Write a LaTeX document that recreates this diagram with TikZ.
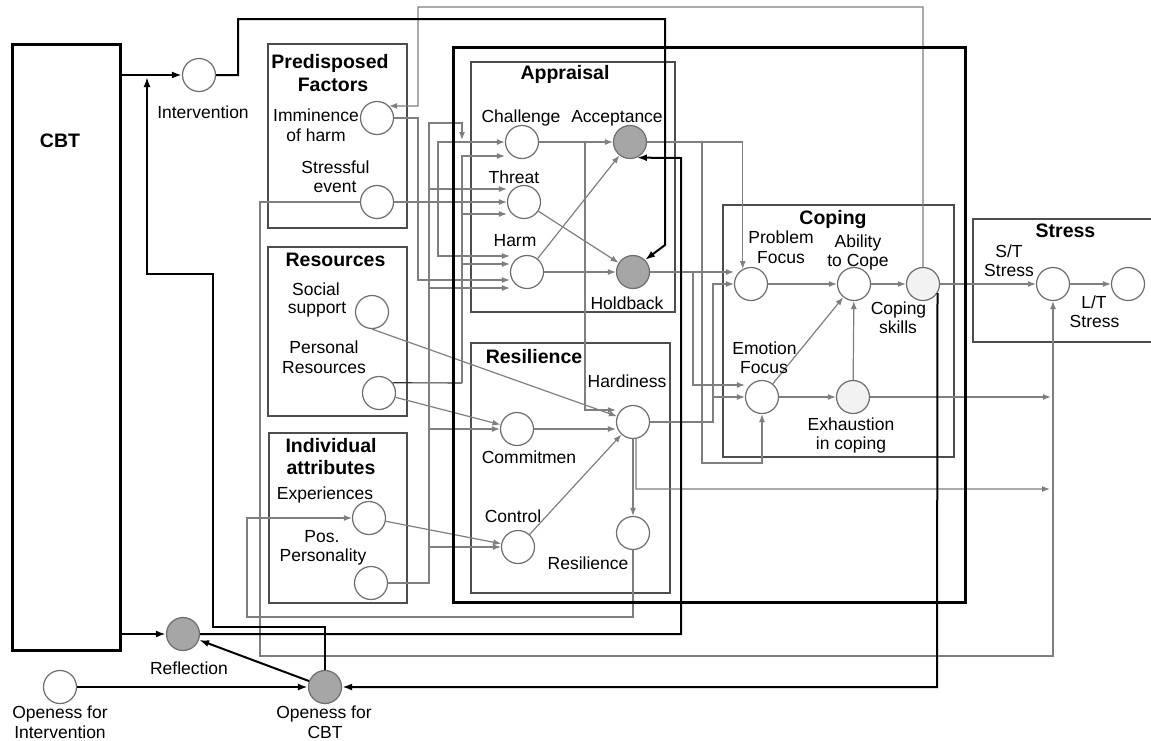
\documentclass[tikz,border=0pt]{standalone}
\usepackage{fontspec}
\setmainfont{Liberation Sans}
\usetikzlibrary{arrows.meta}
\definecolor{lg}{HTML}{7F7F7F}
\definecolor{bx}{HTML}{4D4D4D}
\definecolor{cg}{HTML}{6E6E6E}
\definecolor{dkfill}{HTML}{A6A6A6}
\definecolor{ltfill}{HTML}{F2F2F2}
\tikzset{
 grp/.style={draw=bx, line width=1.2pt, inner sep=0pt},
 frm/.style={draw=black, line width=3pt, inner sep=0pt},
 circ/.style={circle, draw=cg, line width=1.2pt, fill=white, minimum size=33pt, inner sep=0pt},
 dkc/.style={circ, fill=dkfill},
 ltc/.style={circ, fill=ltfill},
 ga/.style={draw=lg, line width=1.2pt, -{Latex[length=8pt,width=6pt]}},
 gl/.style={draw=lg, line width=1.2pt},
 ba/.style={draw=black, line width=2pt, -{Latex[length=10pt,width=7pt]}},
 lbl/.style={font=\fontsize{17.5}{20}\selectfont, anchor=base, inner sep=0pt},
 ttl/.style={font=\fontsize{19.5}{22}\selectfont\bfseries, anchor=base, inner sep=0pt},
}
\begin{document}
\begin{tikzpicture}[x=1pt,y=-1pt]
\useasboundingbox (0,0) rectangle (1151,740);
\fill[white] (0,0) rectangle (1151,740);
% group boxes
\node[grp, minimum width=139pt, minimum height=184pt] (gpre) at (337.5,136) {};
\node[grp, minimum width=139pt, minimum height=169pt] (gres) at (337.5,331.5) {};
\node[grp, minimum width=138pt, minimum height=170pt] (gind) at (338,518) {};
\node[grp, minimum width=204pt, minimum height=250pt] (gapp) at (573,187) {};
\node[grp, minimum width=199pt, minimum height=250pt] (grsl) at (570.5,468) {};
\node[grp, minimum width=231pt, minimum height=252pt] (gcop) at (838.5,331) {};
\node[grp, minimum width=187pt, minimum height=123pt] (gstr) at (1066.5,280.5) {};
\node[frm, minimum width=108pt, minimum height=606pt] (cbt) at (66,347) {};
% circles
\node[circ] (int) at (199,75) {};
\node[circ] (imm) at (377,118) {};
\node[circ] (se) at (377,202) {};
\node[circ] (ss) at (372,312) {};
\node[circ] (pr) at (379,393) {};
\node[circ] (exp) at (369,518) {};
\node[circ] (pp) at (371,583) {};
\node[circ] (ch) at (522,142) {};
\node[dkc] (acc) at (630,142) {};
\node[circ] (th) at (524,202) {};
\node[circ] (hm) at (527,272) {};
\node[dkc] (hb) at (633,272) {};
\node[circ] (hd) at (633,422) {};
\node[circ] (cm) at (517,429) {};
\node[circ] (ctl) at (518,547) {};
\node[circ] (res) at (633,533) {};
\node[circ] (pf) at (751,284) {};
\node[circ] (abl) at (854,284) {};
\node[ltc] (cs) at (923,284) {};
\node[circ] (ef) at (762,397) {};
\node[ltc] (ex) at (853,397) {};
\node[circ] (stst) at (1053,284) {};
\node[circ] (ltst) at (1128,284) {};
\node[dkc] (refl) at (183,634) {};
\node[dkc] (ocbt) at (325,687) {};
\node[circ] (oint) at (60,687) {};
% gray connectors
\draw[ga] (cs.north) -- (923,7) -- (418,7) -- (418,106) -- (imm.north east);
\draw[ga] (imm.east) -- (418,118) -- (418,280) -- ([yshift=-8pt]hm.west);
\draw[ga] (se.east) -- (th.west);
\draw[ga] (se.west) -- (260,202) -- (260,656) -- (1053,656) -- (stst.south);
\draw[line width=1.1pt, draw=black!80] (pr.37) -- (462,383);
\draw[ga] (462,383) -- (462,156) -- ([yshift=-14pt]ch.west);
\draw[ga] (462,214) -- ([yshift=-12pt]th.west);
\draw[ga] (462,264) -- ([yshift=8pt]hm.west);
\draw[ga] (pp.east) -- (429,583) -- (429,123) -- (462,123) -- (462,140);
\draw[ga] (429,189) -- ([yshift=13pt]th.west);
\draw[ga] (429,288) -- ([yshift=-16pt]hm.west);
\draw[ga] (429,429) -- (cm.west);
\draw[ga] (429,547) -- (ctl.west);
\draw[gl, {Latex[length=8pt,width=6pt]}-{Latex[length=8pt,width=6pt]}] (ch.west) -- (438,142) -- (438,256) -- ([yshift=16pt]hm.west);
\draw[ga] (ss.south) -- (hd);
\draw[ga] (pr) -- (cm);
\draw[ga] (exp) -- (ctl);
\draw[ga] (res.south) -- (633,617) -- (247,617) -- (247,518) -- (exp.west);
\draw[ga] (ch) -- (acc);
\draw[ga] (585,142) -- (585,410) -- ([yshift=12pt]hd.west);
\draw[ga] (th) -- (hb);
\draw[ga] (hm) -- (acc);
\draw[ga] (hm) -- (hb);
\draw[ga] (cm.east) -- ([yshift=-7pt]hd.west);
\draw[ga] (ctl) -- (hd);
\draw[ga] (hd.south) -- (res.north);
\draw[ga] (hd.-80) -- (636,489) -- (1050,489);
\draw[ga] (hd.east) -- (713,422) -- (713,284) -- (pf.west);
\draw[ga] (713,397) -- (ef.west);
\draw[ga] (acc.east) -| (pf.119);
\draw[ga] (702,142) -- (702,463) -| (ef.south);
\draw[ga] (hb.east) -- ([yshift=12pt]pf.west);
\draw[ga] (693,272) -- (693,385) -- ([yshift=12pt]ef.west);
\draw[ga] (pf) -- (abl);
\draw[ga] (abl) -- (cs);
\draw[ga] (cs) -- (stst);
\draw[ga] (stst) -- (ltst);
\draw[ga] (ef) -- (ex);
\draw[ga] (ef) -- (abl);
\draw[ga] (ex) -- (abl);
\draw[ga] (ex.east) -- (1051,397);
% main frame
\node[frm, minimum width=512pt, minimum height=555pt] (frame) at (709,324.5) {};
% black connectors
\draw[ba] (cbt.east |- int) -- (int.west);
\draw[ba] (ocbt.north) -- (325,627) -- (213,627) -- (213,274) -- (147,274) -- (147,77);
\draw[ba] (int.east) -- (238,75) -- (238,19) -- (665,19) -- (665,245) -- (hb.north east);
\draw[ba] (refl.east) -- (681,634) -- (681,158) -- (acc.-66);
\draw[ba] (ocbt) -- (refl);
\draw[ba] (oint) -- (ocbt);
\draw[ba] (cbt.east |- refl) -- (refl.west);
\draw[ba] (cs.-32) -- (937,687) -- (ocbt.east);
% texts
\node[ttl] (tcbt) at (60,147) {CBT};
\node[lbl] (tint) at (203,118) {Intervention};
\node[ttl] (tpre1) at (330,68) {Predisposed};
\node[ttl] (tpre2) at (333,91) {Factors};
\node[lbl] (timm1) at (316,121) {Imminence};
\node[lbl] (timm2) at (316,141) {of harm};
\node[lbl] (tse1) at (335.5,173) {Stressful};
\node[lbl] (tse2) at (335,192) {event};
\node[ttl] (tres) at (335.5,266) {Resources};
\node[lbl] (tss1) at (316,295) {Social};
\node[lbl] (tss2) at (317,313) {support};
\node[lbl] (tpr1) at (324,353) {Personal};
\node[lbl] (tpr2) at (324,373) {Resources};
\node[ttl] (tind1) at (331,452) {Individual};
\node[ttl] (tind2) at (331,474) {attributes};
\node[lbl] (texp) at (325,499) {Experiences};
\node[lbl] (tpp1) at (322,542) {Pos.};
\node[lbl] (tpp2) at (323,561) {Personality};
\node[ttl] (tapp) at (565,79) {Appraisal};
\node[lbl] (tch) at (521,122) {Challenge};
\node[lbl] (tacc) at (617,122) {Acceptance};
\node[lbl] (tth) at (514,183) {Threat};
\node[lbl] (thm) at (515,246) {Harm};
\node[lbl] (thb) at (627,309) {Holdback};
\node[ttl] (trsl) at (534,363) {Resilience};
\node[lbl] (thd) at (627,387) {Hardiness};
\node[lbl] (tcm) at (529,463) {Commitmen};
\node[lbl] (tctl) at (513,522) {Control};
\node[lbl] (tresl) at (588,569) {Resilience};
\node[ttl] (tcop) at (833,224) {Coping};
\node[lbl] (tpf1) at (781,243) {Problem};
\node[lbl] (tpf2) at (781,263) {Focus};
\node[lbl] (tabl1) at (858,247) {Ability};
\node[lbl] (tabl2) at (858,266) {to Cope};
\node[lbl] (tcs1) at (898.5,314) {Coping};
\node[lbl] (tcs2) at (898,333) {skills};
\node[lbl] (tef1) at (764.5,354) {Emotion};
\node[lbl] (tef2) at (764,373) {Focus};
\node[lbl] (tex1) at (851,430) {Exhaustion};
\node[lbl] (tex2) at (851,449) {in coping};
\node[ttl] (tstr) at (1065.5,237) {Stress};
\node[lbl] (tst1) at (1009,257) {S/T};
\node[lbl] (tst2) at (1009,276) {Stress};
\node[lbl] (tlt1) at (1094,308) {L/T};
\node[lbl] (tlt2) at (1094.5,327) {Stress};
\node[lbl] (trefl) at (189,674) {Reflection};
\node[lbl] (tocbt1) at (324,718) {Openess for};
\node[lbl] (tocbt2) at (325,738) {CBT};
\node[lbl] (toint1) at (60,718) {Openess for};
\node[lbl] (toint2) at (60,738) {Intervention};
\end{tikzpicture}
\end{document}
